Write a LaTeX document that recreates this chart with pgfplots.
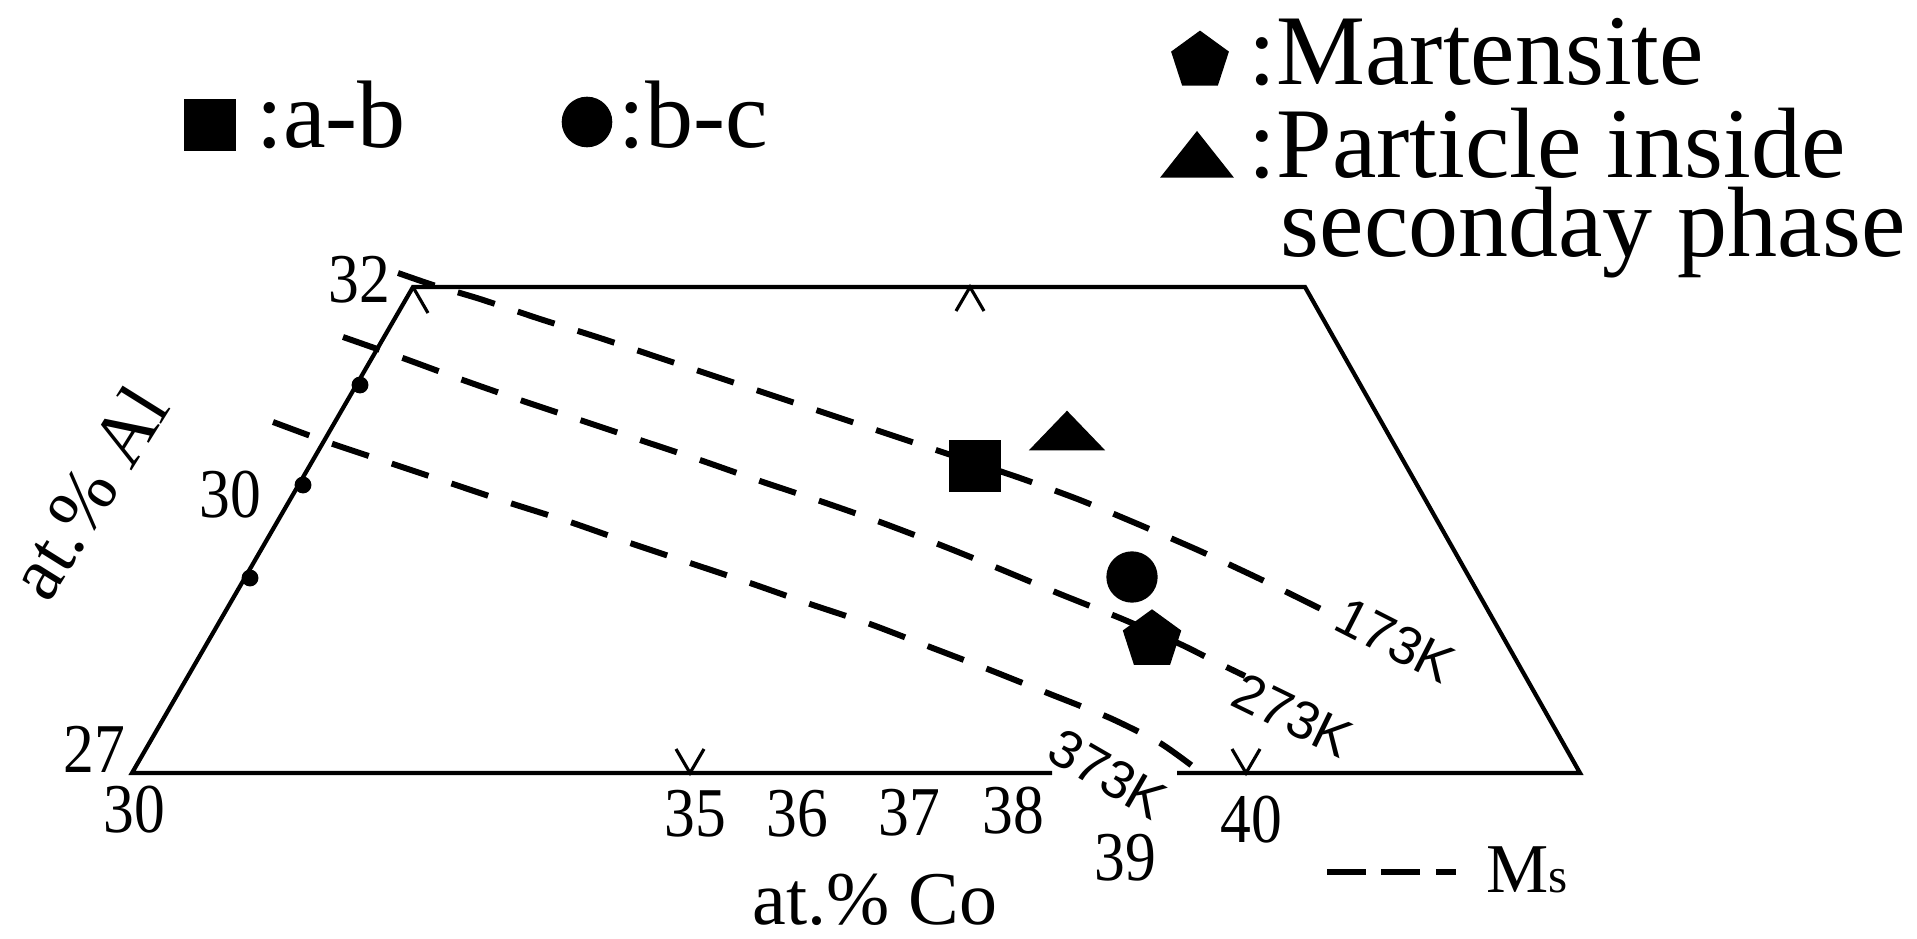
\documentclass[border=0pt]{standalone}
\usepackage{pgfplots}
\pgfplotsset{compat=1.18}
\usepackage{fontspec}
\setmainfont{Liberation Serif}
\newfontfamily\ksans{Liberation Sans}
\newcommand\fs[1]{\fontsize{#1}{#1}\selectfont}
\begin{document}
\begin{tikzpicture}
\begin{axis}[
  width=19.17cm, height=9.38cm, scale only axis, hide axis, clip=false,
  xmin=0, xmax=1917, ymin=0, ymax=938, y dir=reverse,
]
\path (axis cs:0,0) rectangle (axis cs:1917,938);
% frame (trapezoid) with gap for 373K label
\addplot[black, line width=1.2pt, no marks] coordinates {(1052,773) (132,773) (413,287) (1305,287) (1580,773) (1177,773)};
% ticks
\addplot[black, line width=0.9pt, no marks] coordinates {(676,749) (690,773) (704,749)};
\addplot[black, line width=0.9pt, no marks] coordinates {(1232,749) (1246,773) (1260,749)};
\addplot[black, line width=0.9pt, no marks] coordinates {(956,311) (970,287) (984,311)};
\addplot[black, line width=0.9pt, no marks] coordinates {(413,287) (428,313)};
% dots on Al axis
\addplot[only marks, mark=*, mark size=2.2pt, black] coordinates {(360,385) (303,485) (250,578)};
% Ms lines
\addplot[black, line width=1.7pt, dash pattern=on 11pt off 6.9pt, no marks, smooth, tension=0.4] coordinates {
(398,273) (433,285) (480,299) (540,319) (600,338) (660,358) (720,378) (780,398) (840,418) (900,438) (960,458) (1020,478) (1080,500) (1140,525) (1200,551) (1260,579) (1327,612)};
\addplot[black, line width=1.7pt, dash pattern=on 11pt off 6.9pt, no marks, smooth, tension=0.4] coordinates {
(343,337) (400,357) (460,379) (520,400) (580,420) (640,440) (700,460) (760,481) (820,501) (880,522) (943,546) (1000,569) (1060,594) (1120,618) (1180,644) (1212,660) (1245,676)};
\addplot[black, line width=1.7pt, dash pattern=on 11pt off 6.9pt, no marks, smooth, tension=0.4] coordinates {
(273,422) (330,443) (390,463) (450,483) (510,503) (570,522) (630,543) (690,563) (750,583) (810,604) (870,624) (930,647) (990,670) (1050,694) (1110,718) (1160,743) (1195,768)};
% data markers
\addplot[only marks, mark=square*, mark size=7.25pt, black] coordinates {(975,466)};
\addplot[only marks, mark=*, mark size=7.1pt, black] coordinates {(1132,577)};
\addplot[only marks, mark=pentagon*, mark size=8.5pt, black] coordinates {(1152,640)};
\addplot[only marks, mark=triangle*, mark size=12pt, mark options={yscale=0.6}, black] coordinates {(1067,437)};
% legend markers
\addplot[only marks, mark=square*, mark size=7.3pt, black] coordinates {(210,125)};
\addplot[only marks, mark=*, mark size=7.0pt, black] coordinates {(587,122)};
\addplot[only marks, mark=pentagon*, mark size=8.4pt, black] coordinates {(1200,61)};
\addplot[only marks, mark=triangle*, mark size=11.66pt, mark options={yscale=0.73}, black] coordinates {(1197,162)};
\addplot[black, line width=1.7pt, dash pattern=on 11pt off 4.5pt, no marks] coordinates {(1327,872) (1456,872)};
% legend texts
\node[anchor=base west, inner sep=0pt] at (axis cs:256,148) {\fs{27.3}:a-b};
\node[anchor=base west, inner sep=0pt] at (axis cs:618,148) {\fs{27.3}:b-c};
\node[anchor=base west, inner sep=0pt] at (axis cs:1248,85) {\fs{28.45}:Martensite};
\node[anchor=base west, inner sep=0pt] at (axis cs:1248,178) {\fs{28.45}:Particle inside};
\node[anchor=base west, inner sep=0pt] at (axis cs:1280,257) {\fs{28.45}seconday phase};
\node[anchor=base west, inner sep=0pt] at (axis cs:1486,892) {\fs{19.9}M{\fs{14}s}};
% tick labels
\node[anchor=base, inner sep=0pt, xscale=0.88] at (axis cs:359,303) {\fs{19.9}32};
\node[anchor=base, inner sep=0pt, xscale=0.88] at (axis cs:230,517) {\fs{19.9}30};
\node[anchor=base, inner sep=0pt, xscale=0.88] at (axis cs:94,772) {\fs{19.9}27};
\node[anchor=base, inner sep=0pt, xscale=0.88] at (axis cs:134,832) {\fs{19.9}30};
\node[anchor=base, inner sep=0pt, xscale=0.88] at (axis cs:695,836) {\fs{19.9}35};
\node[anchor=base, inner sep=0pt, xscale=0.88] at (axis cs:797,836) {\fs{19.9}36};
\node[anchor=base, inner sep=0pt, xscale=0.88] at (axis cs:909,835) {\fs{19.9}37};
\node[anchor=base, inner sep=0pt, xscale=0.88] at (axis cs:1013,833) {\fs{19.9}38};
\node[anchor=base, inner sep=0pt, xscale=0.88] at (axis cs:1125,880) {\fs{19.9}39};
\node[anchor=base, inner sep=0pt, xscale=0.88] at (axis cs:1251,842) {\fs{19.9}40};
% axis labels
\node[anchor=base, inner sep=0pt] at (axis cs:875,924) {\fs{21.6}at.\% Co};
\node[rotate=58, inner sep=0pt] at (axis cs:88,492) {\fs{21.6}at.\% Al};
% Ms temperature labels
\node[rotate=-27, inner sep=0pt] at (axis cs:1395,640) {\ksans\fs{15.2}173K};
\node[rotate=-26, inner sep=0pt] at (axis cs:1293,715) {\ksans\fs{15.2}273K};
\node[rotate=-30, inner sep=0pt] at (axis cs:1108,774) {\ksans\fs{15.2}373K};
\end{axis}
\end{tikzpicture}
\end{document}
